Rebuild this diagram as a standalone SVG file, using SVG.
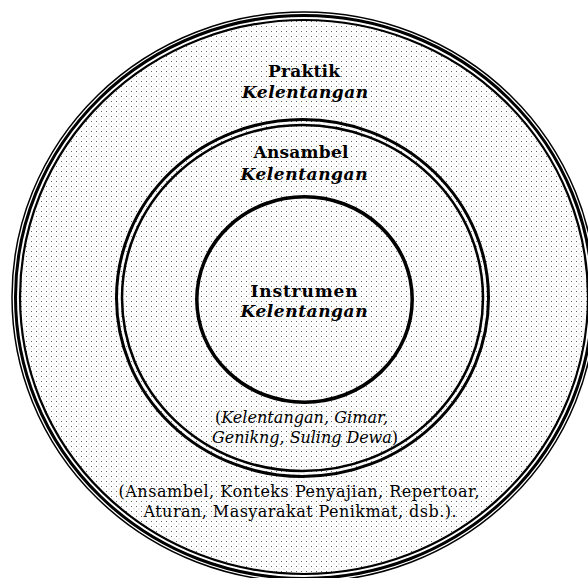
<svg xmlns="http://www.w3.org/2000/svg" width="588" height="578" viewBox="0 0 588 578">
<defs>
<pattern id="dots" width="5" height="5" patternUnits="userSpaceOnUse">
<rect x="0" y="0" width="5" height="5" fill="#ffffff"/>
<rect x="1" y="1" width="1" height="1" fill="#666666"/>
<rect x="3.5" y="3.5" width="1" height="1" fill="#c4c4c4"/>
</pattern>
<style>
.ln{fill:none;stroke:#000000}
.t{font-family:"DejaVu Serif","Liberation Serif",serif;fill:#000000;text-anchor:middle}
.b{font-weight:bold;font-size:17px}
.bi{font-weight:bold;font-style:italic;font-size:17px}
.r{font-size:16px}
.i{font-style:italic}
</style>
</defs>
<rect width="588" height="578" fill="#ffffff"/>
<g id="praktik">
<ellipse cx="304" cy="297" rx="284" ry="277" fill="url(#dots)"/>
<ellipse class="ln" cx="304" cy="297" rx="292" ry="285" stroke-width="1.5"/>
<ellipse class="ln" cx="304" cy="297" rx="288.5" ry="281.5" stroke-width="3"/>
<ellipse class="ln" cx="304" cy="297" rx="284" ry="277" stroke-width="2.2"/>
<text class="t b" x="304" y="77" textLength="72">Praktik</text>
<text class="t bi" x="305" y="98" textLength="126">Kelentangan</text>
<text class="t r" x="299" y="497" textLength="361">(Ansambel, Konteks Penyajian, Repertoar,</text>
<text class="t r" x="300" y="517" textLength="313">Aturan, Masyarakat Penikmat, dsb.).</text>
</g>
<g id="ansambel">
<ellipse cx="302.5" cy="298" rx="186" ry="178.5" fill="#ffffff" class="ln" stroke-width="3"/>
<ellipse cx="302.5" cy="298" rx="180.5" ry="173" fill="url(#dots)" class="ln" stroke-width="2.5"/>
<text class="t b" x="301" y="158" textLength="95">Ansambel</text>
<text class="t bi" x="304" y="180" textLength="127">Kelentangan</text>
<text class="t r" x="301.5" y="423" textLength="173">(<tspan class="i">Kelentangan, Gimar,</tspan></text>
<text class="t r" x="305" y="443" textLength="186"><tspan class="i">Genikng, Suling Dewa</tspan>)</text>
</g>
<g id="instrumen">
<ellipse cx="304.5" cy="299.5" rx="107.7" ry="102.7" fill="#ffffff" class="ln" stroke-width="3.5"/>
<text class="t b" x="304" y="297" textLength="107">Instrumen</text>
<text class="t bi" x="304" y="317" textLength="127">Kelentangan</text>
</g>
<g id="connectors"/>
</svg>
